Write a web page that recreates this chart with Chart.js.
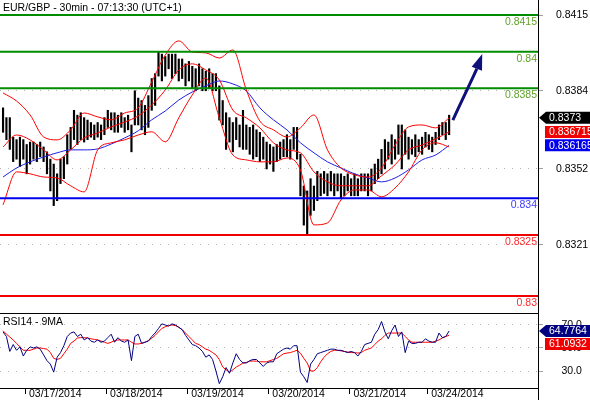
<!DOCTYPE html>
<html>
<head>
<meta charset="utf-8">
<title>EUR/GBP 30min</title>
<script src="https://cdn.jsdelivr.net/npm/chart.js@4.4.1/dist/chart.umd.min.js"></script>
<style>
  html, body { margin: 0; padding: 0; background: #fff; }
  #wrap { position: relative; width: 590px; height: 400px; overflow: hidden; }
  #priceChart { position: absolute; left: 0; top: 0; }
  #rsiChart { position: absolute; left: 0; top: 313px; }
</style>
</head>
<body>
<div id="wrap">
  <canvas id="priceChart" width="590" height="313"></canvas>
  <canvas id="rsiChart" width="590" height="87"></canvas>
</div>
<script>
// hourly bars (index 0 = first bar on the left)
const highs = [
  0.8377, 0.8373, 0.8373, 0.8365, 0.8364, 0.8365, 0.8364, 0.8362, 0.8363, 0.8363,
  0.8362, 0.8363, 0.8361, 0.8359, 0.8356, 0.8354, 0.8350, 0.8356, 0.8357, 0.8366,
  0.8369, 0.8376, 0.8374, 0.8375, 0.8373, 0.8372, 0.8371, 0.8370, 0.8371, 0.8370,
  0.8373, 0.8376, 0.8375, 0.8375, 0.8374, 0.8375, 0.8373, 0.8374, 0.8370, 0.8384,
  0.8381, 0.8380, 0.8378, 0.8382, 0.8389, 0.8391, 0.8400, 0.8399, 0.8398, 0.8399,
  0.8399, 0.8399, 0.8397, 0.8397, 0.8395, 0.8396, 0.8394, 0.8393, 0.8395, 0.8393,
  0.8392, 0.8393, 0.8391, 0.8391, 0.8386, 0.8380, 0.8375, 0.8373, 0.8371, 0.8373,
  0.8370, 0.8376, 0.8370, 0.8369, 0.8370, 0.8368, 0.8367, 0.8365, 0.8363, 0.8362,
  0.8361, 0.8362, 0.8363, 0.8364, 0.8366, 0.8364, 0.8369, 0.8369, 0.8358, 0.8345,
  0.8343, 0.8348, 0.8345, 0.8351, 0.8350, 0.8351, 0.8350, 0.8351, 0.8350, 0.8350,
  0.8350, 0.8349, 0.8350, 0.8348, 0.8350, 0.8348, 0.8350, 0.8350, 0.8350, 0.8352,
  0.8354, 0.8356, 0.8360, 0.8364, 0.8363, 0.8366, 0.8364, 0.8370, 0.8370, 0.8368,
  0.8365, 0.8364, 0.8366, 0.8364, 0.8365, 0.8367, 0.8366, 0.8365, 0.8367, 0.8370,
  0.8371, 0.8371, 0.8374
];
const lows = [
  0.8367, 0.8364, 0.8360, 0.8355, 0.8356, 0.8353, 0.8356, 0.8350, 0.8354, 0.8356,
  0.8355, 0.8357, 0.8355, 0.8350, 0.8343, 0.8337, 0.8339, 0.8346, 0.8348, 0.8354,
  0.8360, 0.8364, 0.8362, 0.8364, 0.8363, 0.8364, 0.8365, 0.8364, 0.8365, 0.8364,
  0.8366, 0.8369, 0.8368, 0.8367, 0.8367, 0.8369, 0.8367, 0.8368, 0.8359, 0.8370,
  0.8370, 0.8368, 0.8366, 0.8369, 0.8376, 0.8378, 0.8390, 0.8388, 0.8390, 0.8393,
  0.8389, 0.8391, 0.8388, 0.8389, 0.8386, 0.8388, 0.8385, 0.8384, 0.8386, 0.8384,
  0.8384, 0.8385, 0.8384, 0.8384, 0.8372, 0.8370, 0.8360, 0.8363, 0.8359, 0.8364,
  0.8361, 0.8360, 0.8360, 0.8358, 0.8356, 0.8357, 0.8355, 0.8356, 0.8352, 0.8354,
  0.8351, 0.8355, 0.8356, 0.8357, 0.8357, 0.8356, 0.8360, 0.8356, 0.8341, 0.8329,
  0.8325, 0.8333, 0.8335, 0.8339, 0.8341, 0.8342, 0.8341, 0.8343, 0.8341, 0.8343,
  0.8340, 0.8341, 0.8343, 0.8341, 0.8341, 0.8341, 0.8343, 0.8343, 0.8341, 0.8343,
  0.8346, 0.8348, 0.8350, 0.8352, 0.8356, 0.8354, 0.8356, 0.8358, 0.8352, 0.8358,
  0.8356, 0.8358, 0.8357, 0.8359, 0.8358, 0.8361, 0.8360, 0.8359, 0.8362, 0.8364,
  0.8366, 0.8364, 0.8366
];
const lastPrice = 0.8373;

// bands and moving average, read every 4th bar
const bandIdx = [0, 4, 8, 12, 16, 20, 24, 28, 32, 36, 40, 44, 48, 52, 56, 60, 64,
  68, 72, 76, 80, 84, 88, 92, 96, 100, 104, 108, 112, 116, 120, 124, 128, 132];
const bandUpper = [0.83831, 0.83798, 0.83741, 0.83651, 0.83639, 0.83680, 0.83749, 0.83733,
  0.83721, 0.83749, 0.83770, 0.83876, 0.83986, 0.84044, 0.83999, 0.83995, 0.83974,
  0.84007, 0.83843, 0.83716, 0.83680, 0.83651, 0.83688, 0.83741, 0.83598, 0.83524,
  0.83496, 0.83487, 0.83524, 0.83618, 0.83692, 0.83700, 0.83688, 0.83729];
const bandMid = [0.83610, 0.83659, 0.83639, 0.83598, 0.83557, 0.83598, 0.83647, 0.83667,
  0.83692, 0.83712, 0.83737, 0.83782, 0.83843, 0.83925, 0.83950, 0.83925, 0.83884,
  0.83761, 0.83729, 0.83688, 0.83627, 0.83598, 0.83586, 0.83508, 0.83467, 0.83451,
  0.83451, 0.83451, 0.83492, 0.83537, 0.83598, 0.83618, 0.83643, 0.836715];
const bandLower = [0.83373, 0.83508, 0.83500, 0.83487, 0.83483, 0.83451, 0.83426, 0.83598,
  0.83627, 0.83639, 0.83659, 0.83672, 0.83631, 0.83729, 0.83823, 0.83892, 0.83729,
  0.83577, 0.83557, 0.83549, 0.83549, 0.83565, 0.83516, 0.83291, 0.83299, 0.83393,
  0.83434, 0.83434, 0.83406, 0.83442, 0.83508, 0.83598, 0.83627, 0.83610];
const maSlow = [0.83487, 0.83524, 0.83549, 0.83569, 0.83586, 0.83598, 0.83598, 0.83602,
  0.83622, 0.83647, 0.83676, 0.83721, 0.83757, 0.83802, 0.83835, 0.83860, 0.83880,
  0.83868, 0.83839, 0.83770, 0.83721, 0.83680, 0.83627, 0.83586, 0.83549, 0.83524,
  0.83500, 0.83483, 0.83467, 0.83483, 0.83516, 0.83557, 0.83577, 0.836165];

// RSI14 and its 9-period average, one per bar
const rsiValues = [
  64, 60, 47, 53, 48, 51, 43, 48, 51, 50, 51, 49, 44, 39, 36, 29, 42, 46, 52, 60,
  63, 64, 60, 62, 57, 59, 56, 55, 57, 55, 56, 59, 62, 55, 59, 56, 55, 57, 39, 60,
  62, 54, 55, 56, 60, 63, 67, 71, 70, 69, 71, 70, 68, 66, 61, 57, 53, 52, 50, 47,
  42, 44, 40, 30, 19, 25, 33, 28, 37, 45, 40, 37, 37, 39, 40, 40, 37, 34, 37, 38,
  38, 45, 47, 49, 50, 49, 52, 52, 29, 25, 20, 36, 40, 45, 46, 47, 48, 49, 49, 48,
  48, 47, 46, 47, 46, 43, 47, 53, 54, 55, 62, 66, 73, 64, 58, 65, 70, 60, 64, 46,
  56, 54, 54, 55, 55, 58, 56, 55, 55, 63, 59, 60, 64.7764
];
const rsiMa = [
  65, 62, 59.6, 57, 54, 51, 48, 48, 48, 49, 50, 50, 49.5, 49, 46, 41, 40, 41, 45, 49,
  54, 56, 58.7, 59, 59, 58.7, 58, 57.5, 57, 56, 55, 54, 55, 56.5, 57, 57, 57, 57, 55, 53.5,
  53.5, 54, 55, 56.5, 58.5, 61, 64, 67, 68.5, 69.5, 70, 69.5, 68, 66, 63, 60, 57, 54, 53, 51,
  49, 48, 46, 44, 40, 33.5, 31, 29, 31, 33.5, 35, 37, 37.5, 38.5, 38.7, 38.5, 38, 38, 38, 39,
  40, 41, 43, 45, 45.6, 46, 47, 48, 45.5, 41, 37, 30, 30, 33, 38, 42, 45, 47, 48, 48,
  47.5, 47, 46.5, 46, 46, 45.6, 46, 48, 49, 50, 53, 56, 58, 61, 63, 63, 63, 63, 63, 60,
  57, 55, 55, 55, 55, 55, 55, 55, 56, 57, 58.7, 60, 61.0932
];

// support / resistance levels
const levels = [0.8415, 0.84, 0.8385, 0.834, 0.8325, 0.83];
const levelColors = ['#008c00', '#008c00', '#008c00', '#0000f0', '#f00000', '#f00000'];
const levelTextColors = ['#62a22a', '#62a22a', '#62a22a', '#3c3cff', '#ff2a2a', '#ff2a2a'];

// projection arrow (bar index, price)
const arrowIdx = [133.1, 137.5, 140.2, 141.8];
const arrowVal = [0.8372, 0.8385, 0.8393, 0.8399];

// axes
const priceTicks = [0.8415, 0.8384, 0.8352, 0.8321];
const rsiTicks = [70, 50, 30];
const dayTicks = [6.5, 30.5, 54.5, 78.5, 102.5, 125.5];
const dayLabels = ['03/17/2014', '03/18/2014', '03/19/2014', '03/20/2014', '03/21/2014', '03/24/2014'];

const xMin = -0.9, xMax = 158.3;
const fontFamily = "'Liberation Sans', Arial, sans-serif";
const font = { family: fontFamily, size: 10.5 };

function series(values) { return values.map((v, i) => ({ x: i, y: v })); }
function pairs(xs, ys) { return xs.map((x, i) => ({ x: x, y: ys[i] })); }
function lineDs(data, color, width, order, smooth) {
  const ds = { type: 'line', data: data, borderColor: color, borderWidth: width,
    pointRadius: 0, fill: false, tension: 0, order: order };
  if (smooth) ds.cubicInterpolationMode = 'monotone';
  return ds;
}
// fixed axis size, no extra label padding pushing the plot area in
function fixWidth(s) { s.width = 52; s.paddingTop = 0; s.paddingBottom = 0; }
function fixHeight(s) { s.height = 12; s.paddingLeft = 0; s.paddingRight = 0; }

function drawBox(ctx, yc, color, text, pointer) {
  const h = 12;
  ctx.fillStyle = color;
  ctx.beginPath();
  if (pointer) {
    ctx.moveTo(539, yc);
    ctx.lineTo(546, yc - h / 2);
    ctx.lineTo(590, yc - h / 2);
    ctx.lineTo(590, yc + h / 2);
    ctx.lineTo(546, yc + h / 2);
    ctx.closePath();
  } else {
    ctx.rect(545, yc - h / 2, 45, h);
  }
  ctx.fill();
  ctx.fillStyle = '#fff';
  ctx.textAlign = 'left';
  ctx.textBaseline = 'middle';
  ctx.fillText(text, 549, yc + 0.5);
}

const priceExtras = {
  id: 'priceExtras',
  afterDraw(chart) {
    const ctx = chart.ctx, area = chart.chartArea;
    const xs = chart.scales.x, ys = chart.scales.y;
    ctx.save();
    ctx.font = font.size + 'px ' + fontFamily;

    ctx.fillStyle = '#000';
    ctx.textAlign = 'left';
    ctx.textBaseline = 'alphabetic';
    ctx.fillText('EUR/GBP - 30min - 07:13:30 (UTC+1)', 3, 11);

    ctx.textAlign = 'right';
    ctx.textBaseline = 'top';
    levels.forEach((lv, i) => {
      ctx.fillStyle = levelTextColors[i];
      ctx.fillText(String(lv), area.right - 1, ys.getPixelForValue(lv) + 2);
    });

    // arrow head
    const n = arrowIdx.length;
    const bx = xs.getPixelForValue(arrowIdx[n - 2]), by = ys.getPixelForValue(arrowVal[n - 2]);
    const tx = xs.getPixelForValue(arrowIdx[n - 1]), ty = ys.getPixelForValue(arrowVal[n - 1]);
    const ang = Math.atan2(ty - by, tx - bx);
    const px = Math.cos(ang + Math.PI / 2) * 5.5, py = Math.sin(ang + Math.PI / 2) * 5.5;
    ctx.fillStyle = '#10107a';
    ctx.beginPath();
    ctx.moveTo(tx, ty);
    ctx.lineTo(bx + px, by + py);
    ctx.lineTo(bx - px, by - py);
    ctx.closePath();
    ctx.fill();

    drawBox(ctx, ys.getPixelForValue(lastPrice), '#000', lastPrice.toFixed(4), true);
    const m = bandMid[bandMid.length - 1], s = maSlow[maSlow.length - 1];
    drawBox(ctx, ys.getPixelForValue(m), '#f00000', String(m), false);
    drawBox(ctx, ys.getPixelForValue(s), '#0000f0', String(s), false);
    ctx.restore();
  }
};

new Chart(document.getElementById('priceChart'), {
  type: 'bar',
  data: {
    datasets: [
      { type: 'bar', data: highs.map((h, i) => ({ x: i, y: [lows[i], h] })),
        backgroundColor: '#000', borderWidth: 0, barThickness: 1.5, grouped: false, order: 3 },
      lineDs(pairs(bandIdx, bandUpper), '#ff0000', 1, 2, true),
      lineDs(pairs(bandIdx, bandMid), '#ff0000', 1, 2, true),
      lineDs(pairs(bandIdx, bandLower), '#ff0000', 1, 2, true),
      lineDs(pairs(bandIdx, maSlow), '#1e1ee6', 1, 2, true),
      ...levels.map((lv, i) => lineDs([{ x: xMin, y: lv }, { x: xMax, y: lv }], levelColors[i], 2, 1)),
      lineDs(pairs(arrowIdx.slice(0, arrowIdx.length - 1), arrowVal.slice(0, arrowVal.length - 1)), '#10107a', 3, 0, true)
    ]
  },
  options: {
    responsive: false,
    animation: false,
    events: [],
    layout: { padding: 0 },
    plugins: { legend: { display: false }, tooltip: { enabled: false } },
    scales: {
      x: { type: 'linear', min: xMin, max: xMax, offset: false, display: false },
      y: {
        position: 'right', min: 0.829304, max: 0.842114,
        afterFit: fixWidth,
        afterBuildTicks(s) { s.ticks = priceTicks.map(v => ({ value: v })); },
        ticks: { callback: v => v.toFixed(4), color: '#000', font: font, padding: 13, crossAlign: 'center' },
        grid: { color: '#b4b4b4', tickColor: '#a0a0a0', tickLength: 5, lineWidth: 1 },
        border: { display: true, color: '#000', width: 1, dash: [1, 7] }
      }
    }
  },
  plugins: [priceExtras]
});

const rsiExtras = {
  id: 'rsiExtras',
  afterDraw(chart) {
    const ctx = chart.ctx, area = chart.chartArea, ys = chart.scales.y;
    ctx.save();
    ctx.strokeStyle = '#000';
    ctx.lineWidth = 1;
    ctx.beginPath();
    ctx.moveTo(0, 0.5);
    ctx.lineTo(area.right, 0.5);
    ctx.moveTo(area.right + 0.5, area.bottom);
    ctx.lineTo(area.right + 0.5, chart.height);
    ctx.stroke();

    ctx.font = font.size + 'px ' + fontFamily;
    ctx.fillStyle = '#000';
    ctx.textAlign = 'left';
    ctx.textBaseline = 'alphabetic';
    ctx.fillText('RSI14 - 9MA', 3, 11.5);

    const r = rsiValues[rsiValues.length - 1], a = rsiMa[rsiMa.length - 1];
    const y1 = ys.getPixelForValue(r);
    drawBox(ctx, y1, '#000080', r.toFixed(4), true);
    const y2 = Math.max(ys.getPixelForValue(a), y1 + 13);
    drawBox(ctx, y2, '#f00000', a.toFixed(4), false);
    ctx.restore();
  }
};

new Chart(document.getElementById('rsiChart'), {
  type: 'line',
  data: {
    datasets: [
      lineDs(series(rsiMa), '#ff0000', 1, 1),
      lineDs(series(rsiValues), '#000080', 1, 0)
    ]
  },
  options: {
    responsive: false,
    animation: false,
    events: [],
    layout: { padding: 0 },
    plugins: { legend: { display: false }, tooltip: { enabled: false } },
    scales: {
      x: {
        type: 'linear', min: xMin, max: xMax, offset: false, position: 'bottom',
        afterFit: fixHeight,
        afterBuildTicks(s) { s.ticks = dayTicks.map(v => ({ value: v })); },
        ticks: { callback: (v, i) => dayLabels[i], color: '#000', font: font, align: 'start',
          labelOffset: 4, padding: -6, autoSkip: false, maxRotation: 0 },
        grid: { drawOnChartArea: false, tickLength: 6, tickColor: '#000' },
        border: { display: true, color: '#000', width: 1 }
      },
      y: {
        position: 'right', min: 15.22, max: 80.43,
        afterFit: fixWidth,
        afterBuildTicks(s) { s.ticks = rsiTicks.map(v => ({ value: v })); },
        ticks: { callback: v => v.toFixed(1), color: '#000', font: font, padding: 18.5, crossAlign: 'center' },
        grid: { color: '#b4b4b4', tickColor: '#a0a0a0', tickLength: 5, lineWidth: 1 },
        border: { display: true, color: '#000', width: 1, dash: [1, 7] }
      }
    }
  },
  plugins: [rsiExtras]
});
</script>
</body>
</html>
